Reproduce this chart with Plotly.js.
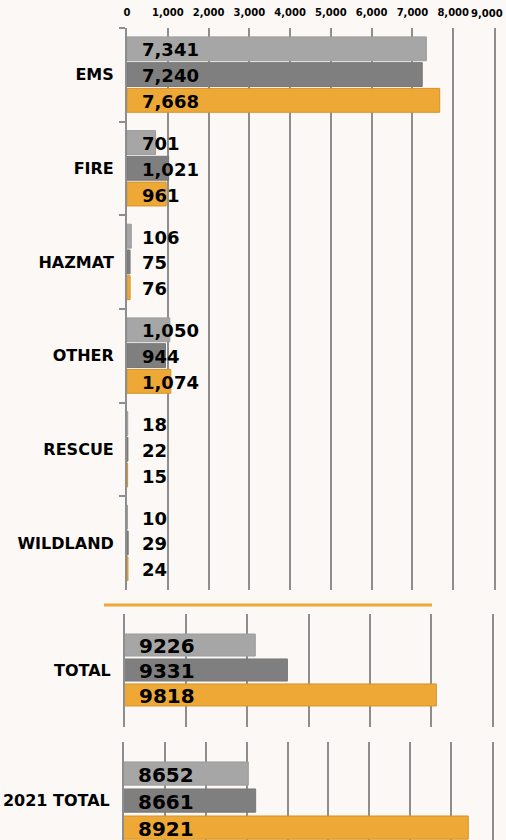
<!DOCTYPE html>
<html>
<head>
<meta charset="utf-8">
<script src="https://cdn.plot.ly/plotly-3.0.1.min.js"></script>
<style>html,body{margin:0;padding:0;background:#FBF8F5;}</style>
</head>
<body>
<div id="chart" style="width:506px;height:840px;"></div>
<script>
const categories = ['EMS', 'FIRE', 'HAZMAT', 'OTHER', 'RESCUE', 'WILDLAND'];
const seriesA = [7341, 701, 106, 1050, 18, 10];
const seriesB = [7240, 1021, 75, 944, 22, 29];
const seriesC = [7668, 961, 76, 1074, 15, 24];
const totalLabel = ['TOTAL'];
const totals = [9226, 9331, 9818];
const total2021Label = ['2021 TOTAL'];
const totals2021 = [8652, 8661, 8921];
const xTicks = [0, 1000, 2000, 3000, 4000, 5000, 6000, 7000, 8000, 9000];

const colors = ['#A6A6A6', '#7F7F7F', '#EDA835'];
const lineColors = ['#9C9C9C', '#777777', '#D2952F'];
const bg = '#FBF8F5';
const gridC = '#8E8E8E';
const FONT = 'DejaVu Sans';

// offsets/widths (category units) per panel
const mainOff = [-0.405, -0.13, 0.145], mainW = 0.255;
const totOff = [-0.323, -0.102, 0.119], totW = 0.195;
const t21Off = [-0.328, -0.095, 0.138], t21W = 0.2;

const traces = [];
const annotations = [];
const mainSeries = [seriesA, seriesB, seriesC];
mainSeries.forEach((vals, k) => {
  traces.push({type:'bar', orientation:'h', x: vals, y: categories, xaxis:'x', yaxis:'y',
    marker:{color: colors[k], line:{color: lineColors[k], width:1}},
    offset: mainOff[k], width: mainW, hoverinfo:'x+y'});
  vals.forEach((v, i) => {
    annotations.push({xref:'x domain', yref:'y', x:0, y: i + mainOff[k] + mainW/2,
      xanchor:'left', yanchor:'middle', xshift:13, yshift:-1, showarrow:false,
      text: v.toLocaleString('en-US'), font:{family:FONT, size:18, color:'#000', weight:'bold'}});
  });
});
totals.forEach((v, k) => {
  traces.push({type:'bar', orientation:'h', x:[v], y: totalLabel, xaxis:'x2', yaxis:'y2',
    marker:{color: colors[k], line:{color: lineColors[k], width:1}},
    offset: totOff[k], width: totW});
  annotations.push({xref:'x2 domain', yref:'y2', x:0, y: totOff[k] + totW/2,
    xanchor:'left', yanchor:'middle', xshift:12, yshift:-1, showarrow:false,
    text: String(v), font:{family:FONT, size:20, color:'#000', weight:'bold'}});
});
totals2021.forEach((v, k) => {
  traces.push({type:'bar', orientation:'h', x:[v], y: total2021Label, xaxis:'x3', yaxis:'y3',
    marker:{color: colors[k], line:{color: lineColors[k], width:1}},
    offset: t21Off[k], width: t21W});
  annotations.push({xref:'x3 domain', yref:'y3', x:0, y: t21Off[k] + t21W/2,
    xanchor:'left', yanchor:'middle', xshift:12, yshift:-1, showarrow:false,
    text: String(v), font:{family:FONT, size:20, color:'#000', weight:'bold'}});
});

// top tick labels; the last one sits at the page edge, so it is drawn right-aligned
const tickFont = {family:FONT, size:10, color:'#000', weight:'bold'};
const tickLabels = xTicks.map(v => v.toLocaleString('en-US'));
const lastTick = xTicks[xTicks.length - 1];
const axisLabels = tickLabels.map((t, i) => i === tickLabels.length - 1 ? '' : t);
annotations.push({xref:'x', yref:'paper', x:lastTick, y:1 - 13.5/840, xanchor:'right',
  yanchor:'middle', xshift:11, showarrow:false, text: tickLabels[tickLabels.length - 1], font: tickFont});

const catFont = {family:FONT, size:16, color:'#000', weight:'bold'};
const layout = {
  width:506, height:840, margin:{l:0, r:0, t:0, b:0},
  paper_bgcolor:bg, plot_bgcolor:bg, showlegend:false, barmode:'overlay',
  xaxis:{domain:[127/506, 494/506], anchor:'y', side:'top', range:[0, 9000],
    tickvals: xTicks, ticktext: axisLabels, tickangle:0,
    showgrid:true, gridcolor:gridC, gridwidth:2, zeroline:false, showline:false, ticks:'',
    ticklabelstandoff:9, tickfont: tickFont, fixedrange:true},
  yaxis:{domain:[1-590/840, 1-28/840], anchor:'x', type:'category', categoryarray: categories,
    range:[5.5, -0.5], showline:true, mirror:true, linecolor:gridC, linewidth:2,
    ticks:'outside', tickson:'boundaries', ticklen:6, tickcolor:gridC, tickwidth:2,
    ticklabelstandoff:8, showgrid:false, tickfont:catFont, fixedrange:true},
  xaxis2:{domain:[125/506, 492/506], anchor:'y2', range:[8800, 10000], dtick:200,
    showticklabels:false, showgrid:true, gridcolor:gridC, gridwidth:2, zeroline:false, ticks:''},
  yaxis2:{domain:[1-727/840, 1-614/840], anchor:'x2', type:'category', range:[0.5, -0.5],
    showline:true, mirror:true, linecolor:gridC, linewidth:2,
    ticks:'', showgrid:false, tickfont:catFont, ticklabelstandoff:9},
  xaxis3:{domain:[124/506, 492/506], anchor:'y3', range:[8500, 8950], dtick:50,
    showticklabels:false, showgrid:true, gridcolor:gridC, gridwidth:2, zeroline:false, ticks:''},
  yaxis3:{domain:[0, 1-742/840], anchor:'x3', type:'category', range:[0.345, -0.5],
    showline:true, mirror:true, linecolor:gridC, linewidth:2,
    ticks:'', showgrid:false, tickfont:catFont, ticklabelstandoff:9},
  shapes:[{type:'line', xref:'paper', yref:'paper', x0:104/506, x1:432/506,
    y0:1-605/840, y1:1-605/840, line:{color:'#EDA835', width:3}}],
  annotations: annotations
};
Plotly.newPlot('chart', traces, layout, {displayModeBar:false, staticPlot:true});
</script>
</body>
</html>
